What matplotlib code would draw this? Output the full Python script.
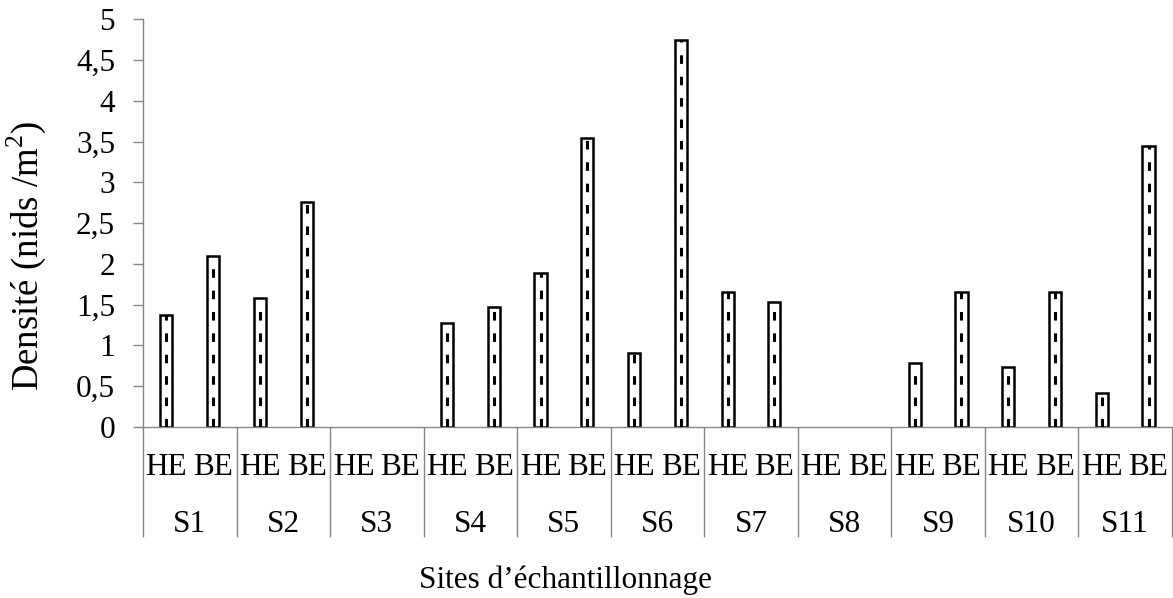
import numpy as np
import matplotlib
matplotlib.use('Agg')
import matplotlib.pyplot as plt

plt.rcParams['font.family'] = ['Liberation Serif', 'DejaVu Serif']
plt.rcParams['mathtext.fontset'] = 'custom'
plt.rcParams['mathtext.rm'] = 'Liberation Serif'

# Densité des nids par site et par exposition
sites = ['S1', 'S2', 'S3', 'S4', 'S5', 'S6', 'S7', 'S8', 'S9', 'S10', 'S11']
expositions = ['HE', 'BE']
he = [1.38, 1.58, 0, 1.27, 1.89, 0.91, 1.66, 0, 0.78, 0.73, 0.42]
be = [2.10, 2.76, 0, 1.47, 3.55, 4.75, 1.53, 0, 1.66, 1.66, 3.45]

valeurs = np.ravel(np.column_stack([he, be]))
x = np.arange(len(valeurs))
gris = '#868686'

fig = plt.figure(figsize=(11.73, 5.98), dpi=100)
ax = fig.add_axes([0.1219, 0.2860, 0.8772, 0.6814])

# barres blanches avec un trait pointillé au centre
mask = valeurs > 0
ax.bar(x[mask], valeurs[mask], width=0.26, color='white', edgecolor='black',
       linewidth=1.8, zorder=2)
ax.vlines(x[mask], 0, valeurs[mask], colors='black', linewidth=2.2,
          linestyles=(0, (2.8, 4.2)), zorder=3)

ax.set_xlim(-0.5, len(valeurs) - 0.5)
ax.set_ylim(0, 5)
yt = np.arange(0, 5.01, 0.5)
ax.set_yticks(yt)
ax.set_yticklabels([('%g' % v).replace('.', ',') for v in yt], fontsize=22.5)
ax.tick_params(axis='y', direction='out', length=7, width=1, color=gris, pad=13)
ax.set_xticks([])

for s in ['top', 'right']:
    ax.spines[s].set_visible(False)
for s in ['left', 'bottom']:
    ax.spines[s].set_color(gris)
    ax.spines[s].set_linewidth(1)

# axe des catégories à deux niveaux
trans = ax.get_xaxis_transform()
for i, v in enumerate(x):
    ax.text(v, -0.100, expositions[i % 2], transform=trans, ha='center',
            va='center', fontsize=22.5)
for k, s in enumerate(sites):
    ax.text(2 * k + 0.5, -0.240, s, transform=trans, ha='center',
            va='center', fontsize=22.5)
seps = np.arange(-0.5, len(valeurs), 2)
ax.vlines(seps, -0.27, 0, transform=trans, colors=gris, linewidth=1,
          clip_on=False)

fig.text(0.022, 0.572, 'Densité (nids /m$^{2}$)', rotation=90, ha='center',
         va='center', fontsize=26.5)
fig.text(0.482, 0.030, 'Sites d\u2019échantillonnage', ha='center',
         va='center', fontsize=22.5)

fig.savefig('out.png', dpi=100)
